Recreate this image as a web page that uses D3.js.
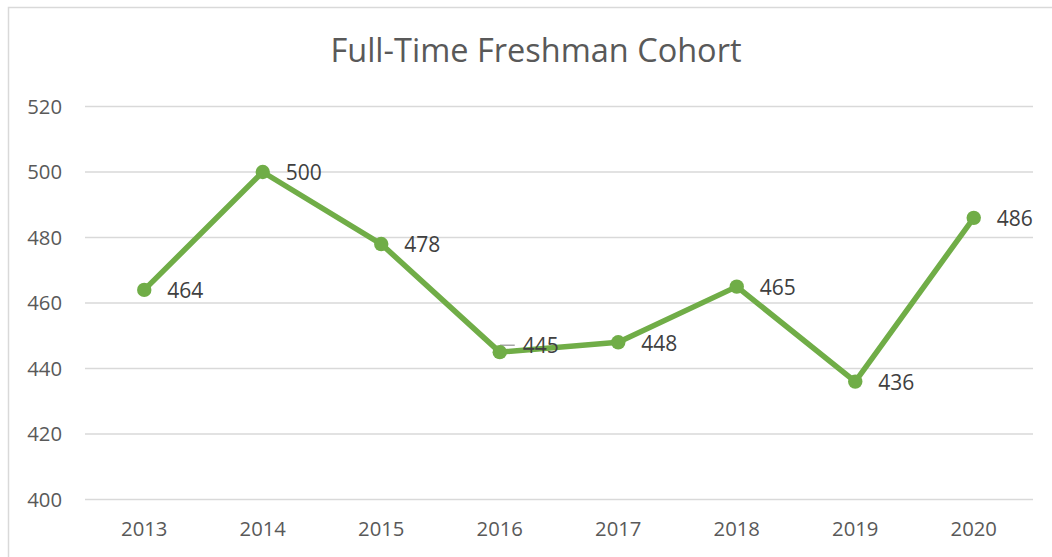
<!DOCTYPE html>
<html><head><meta charset="utf-8">
<script src="https://cdn.jsdelivr.net/npm/d3@7"></script>
<style>body{margin:0;background:#fff;}svg{display:block;font-family:"Open Sans","Noto Sans",sans-serif;}</style>
</head><body>
<svg id="c" width="1052" height="557"></svg>
<script>
const years = ["2013","2014","2015","2016","2017","2018","2019","2020"];
const cohort = [464,500,478,445,448,465,436,486];
const yTicks = [400,420,440,460,480,500,520];

const svg = d3.select("#c");
svg.append("rect").attr("x",8.5).attr("y",7.5).attr("width",1060).attr("height",560)
  .attr("fill","#fff").attr("stroke","#d9d9d9").attr("stroke-width",1.5);

const x = d3.scaleBand().domain(years).range([85,1033]);
const y = d3.scaleLinear().domain([400,520]).range([499.5,106.5]);

svg.append("text").attr("x",536).attr("y",62).attr("text-anchor","middle")
  .attr("fill","#595959").attr("font-size",32.5).text("Full-Time Freshman Cohort");

const g = svg.append("g");
g.selectAll("line.grid").data(yTicks).join("line").attr("class","grid")
  .attr("x1",85).attr("x2",1033).attr("y1",d=>y(d)).attr("y2",d=>y(d))
  .attr("stroke","#d9d9d9").attr("stroke-width",1.5);

const yAxis = d3.axisLeft(y).tickValues(yTicks).tickSize(0).tickPadding(0);
const ya = svg.append("g").attr("transform","translate(62,0)").call(yAxis);
ya.select(".domain").remove();
ya.selectAll("text").attr("font-size",20.3).attr("fill","#595959").attr("font-family","Open Sans, Noto Sans, sans-serif");

const xAxis = d3.axisBottom(x).tickSize(0).tickPadding(0);
const xa = svg.append("g").attr("transform","translate(0,522)").call(xAxis);
xa.select(".domain").remove();
xa.selectAll("text").attr("font-size",20.3).attr("fill","#595959").attr("font-family","Open Sans, Noto Sans, sans-serif");

const cx = (d,i)=>x(years[i])+x.bandwidth()/2;
const line = d3.line().x((d,i)=>cx(d,i)).y(d=>y(d));
svg.append("path").datum(cohort).attr("d",line).attr("fill","none")
  .attr("stroke","#70ad47").attr("stroke-width",5.5).attr("stroke-linejoin","round");

// leader line for 2016
svg.append("path").attr("d",`M${cx(0,3)+1},${y(445)-2}L${cx(0,3)+1},${y(445)-7}L${cx(0,3)+15},${y(445)-7}`)
  .attr("fill","none").attr("stroke","#a6a6a6").attr("stroke-width",1.5);

svg.selectAll("circle.pt").data(cohort).join("circle").attr("class","pt")
  .attr("cx",(d,i)=>cx(d,i)).attr("cy",d=>y(d)).attr("r",7.2).attr("fill","#70ad47");

svg.selectAll("text.lbl").data(cohort).join("text").attr("class","lbl")
  .attr("x",(d,i)=>cx(d,i)+23).attr("y",(d,i)=>y(d)+(i===3?-6:1)).attr("dy","0.35em")
  .attr("font-size",21).attr("fill","#404040").text(d=>d);
</script>
</body></html>
